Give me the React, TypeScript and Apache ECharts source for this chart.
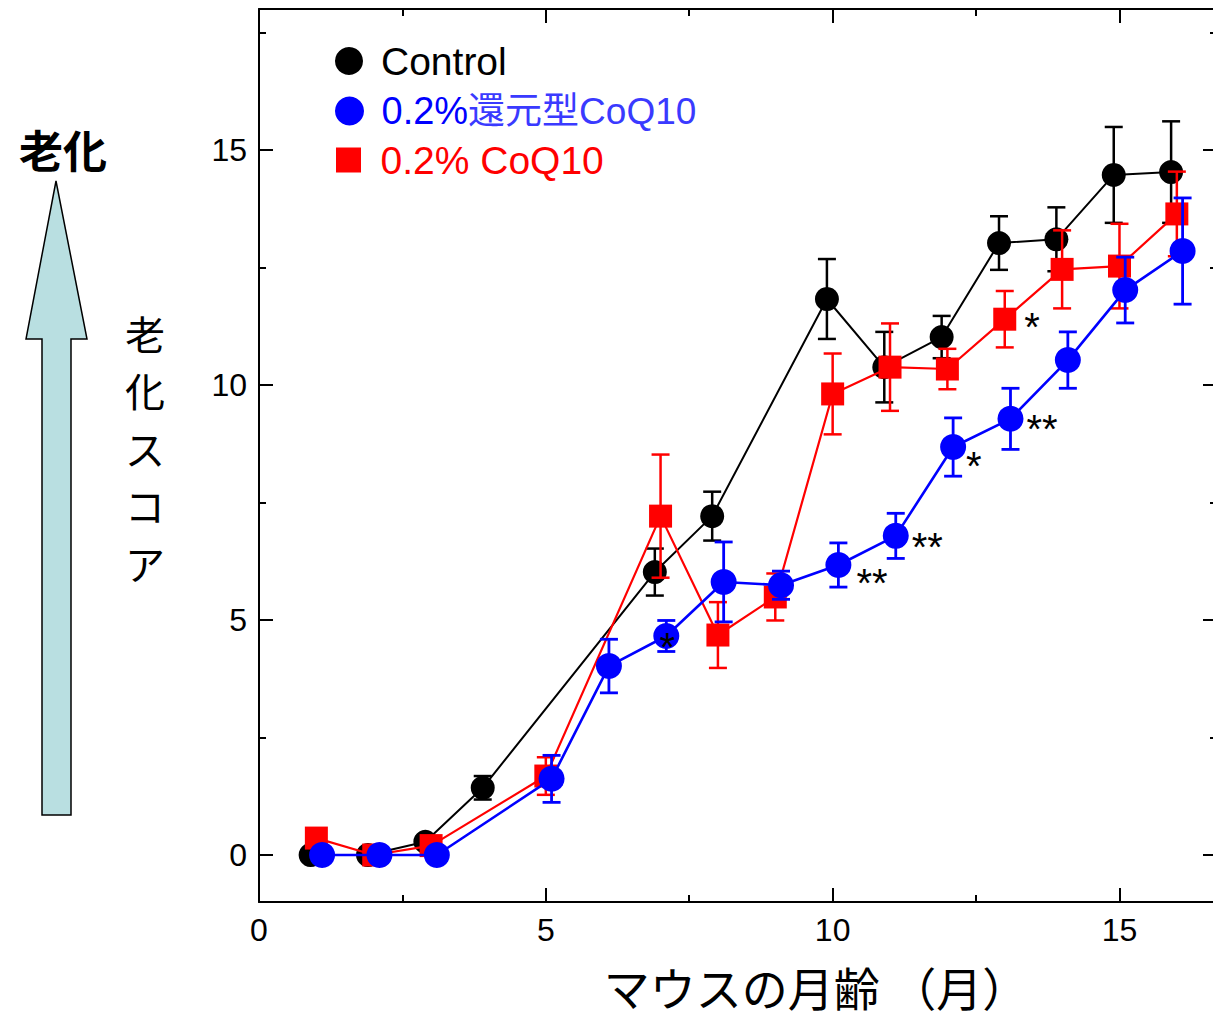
import React, { useEffect, useRef } from 'react';
import * as echarts from 'echarts';

// ---------- data ----------
const controlMonths = [1, 2, 3, 4, 7, 8, 10, 11, 12, 13, 14, 15, 16];
const controlMean = [0, 0, 0.28, 1.43, 6.02, 7.21, 11.83, 10.38, 11.02, 13.02, 13.1, 14.47, 14.53];
const controlErr = [0, 0, 0, 0.25, 0.5, 0.52, 0.85, 0.75, 0.45, 0.57, 0.68, 1.02, 1.08];
const controlSig = ['', '', '', '', '', '', '', '', '', '', '', '', ''];

const redMonths = [1, 2, 3, 5, 7, 8, 9, 10, 11, 12, 13, 14, 15, 16];
const redMean = [0.36, 0, 0.2, 1.68, 7.21, 4.68, 5.49, 9.81, 10.38, 10.34, 11.4, 12.46, 12.53, 13.64];
const redErr = [0, 0, 0, 0.4, 1.31, 0.7, 0.5, 0.86, 0.93, 0.43, 0.6, 0.83, 0.9, 0.9];
const redSig = ['', '', '', '', '', '', '', '', '', '', '*', '', '', ''];

const blueMonths = [1, 2, 3, 5, 6, 7, 8, 9, 10, 11, 12, 13, 14, 15, 16];
const blueMean = [0, 0, 0, 1.62, 4.02, 4.66, 5.81, 5.74, 6.17, 6.79, 8.68, 9.28, 10.53, 12.02, 12.85];
const blueErr = [0, 0, 0, 0.5, 0.57, 0.33, 0.85, 0.3, 0.47, 0.48, 0.62, 0.65, 0.6, 0.7, 1.13];
const blueSig = ['', '', '', '', '', '*', '', '', '**', '**', '*', '**', '', '', ''];

const xTicks = [0, 5, 10, 15];
const xMinorTicks = [2.5, 7.5, 12.5];
const yTicks = [0, 5, 10, 15];
const yMinorTicks = [2.5, 7.5, 12.5, 17.5];

const seriesNames = ['Control', '0.2%還元型CoQ10', '0.2% CoQ10'];
const xTitle = 'マウスの月齢 （月）';
const sideTitle = '老化';
const sideLabel = '老化スコア';

// ---------- styles ----------
const LATIN = "'Liberation Sans', Arial, 'Noto Sans CJK JP', sans-serif";
const CJK = "'Noto Sans CJK JP', 'Liberation Sans', sans-serif";

const sigStyle: Record<string, any> = {
  'blue-7': { position: 'inside', offset: [1, 11] },
  'blue-10': { position: 'right', offset: [0, 18] },
  'blue-11': { position: 'right', offset: [-2, 11] },
  'blue-12': { position: 'right', offset: [-5, 19] },
  'blue-13': { position: 'right', offset: [-2, 10] },
  'red-13': { position: 'right', offset: [3, 8] },
};

function buildLine(key: string, months: number[], mean: number[], sig: string[], dodge: number) {
  return months.map((m, i) => {
    const item: any = { value: [m + dodge, mean[i]] };
    if (sig[i]) {
      const st = sigStyle[`${key}-${m}`] || { position: 'right', offset: [0, 9] };
      item.label = {
        show: true,
        formatter: sig[i],
        position: st.position,
        offset: st.offset,
        distance: 5,
        color: '#000',
        fontSize: 40,
        fontFamily: LATIN,
      };
    }
    return item;
  });
}

function buildErr(months: number[], mean: number[], err: number[], dodge: number) {
  return months
    .map((m, i) => [m + dodge, mean[i] - err[i], mean[i] + err[i]])
    .filter((d) => d[2] - d[1] > 0);
}

function errSeries(data: number[][], color: string, lw: number, z: number) {
  return {
    type: 'custom',
    xAxisIndex: 0,
    yAxisIndex: 0,
    z,
    silent: true,
    encode: { x: 0, y: [1, 2] },
    data,
    renderItem: (params: any, api: any) => {
      const x = api.value(0);
      const lo = api.value(1);
      const hi = api.value(2);
      const p1 = api.coord([x, hi]);
      const p2 = api.coord([x, lo]);
      const hw = 9;
      const style = { stroke: color, lineWidth: lw };
      return {
        type: 'group',
        children: [
          { type: 'line', shape: { x1: p1[0], y1: p1[1], x2: p2[0], y2: p2[1] }, style },
          { type: 'line', shape: { x1: p1[0] - hw, y1: p1[1], x2: p1[0] + hw, y2: p1[1] }, style },
          { type: 'line', shape: { x1: p2[0] - hw, y1: p2[1], x2: p2[0] + hw, y2: p2[1] }, style },
        ],
      };
    },
  };
}

const X_MIN = 0;
const X_MAX = 16.7;
const Y_MIN = -1;
const Y_MAX = 18;

function majorX(position: string, labels: boolean) {
  return {
    type: 'value',
    gridIndex: 0,
    position,
    min: X_MIN,
    max: X_MAX,
    axisLine: { show: true, onZero: false, lineStyle: { color: '#000', width: 2 } },
    axisTick: { show: true, inside: true, length: 14, customValues: xTicks, lineStyle: { color: '#000', width: 2 } },
    axisLabel: labels
      ? { show: true, customValues: xTicks, margin: 12, color: '#000', fontSize: 32, fontFamily: LATIN }
      : { show: false },
    splitLine: { show: false },
  };
}
function minorX(position: string) {
  return {
    type: 'value',
    gridIndex: 1,
    position,
    min: X_MIN,
    max: X_MAX,
    axisLine: { show: false, onZero: false },
    axisTick: { show: true, inside: true, length: 7, customValues: xMinorTicks, lineStyle: { color: '#000', width: 2 } },
    axisLabel: { show: false },
    splitLine: { show: false },
  };
}
function majorY(position: string, labels: boolean) {
  return {
    type: 'value',
    gridIndex: 0,
    position,
    min: Y_MIN,
    max: Y_MAX,
    axisLine: { show: true, onZero: false, lineStyle: { color: '#000', width: 2 } },
    axisTick: { show: true, inside: true, length: 14, customValues: yTicks, lineStyle: { color: '#000', width: 2 } },
    axisLabel: labels
      ? { show: true, customValues: yTicks, margin: 12, color: '#000', fontSize: 32, fontFamily: LATIN }
      : { show: false },
    splitLine: { show: false },
  };
}
function minorY(position: string) {
  return {
    type: 'value',
    gridIndex: 1,
    position,
    min: Y_MIN,
    max: Y_MAX,
    axisLine: { show: false, onZero: false },
    axisTick: { show: true, inside: true, length: 7, customValues: yMinorTicks, lineStyle: { color: '#000', width: 2 } },
    axisLabel: { show: false },
    splitLine: { show: false },
  };
}

export default function App() {
  const ref = useRef<HTMLDivElement>(null);

  useEffect(() => {
    if (!ref.current) return;
    const chart = echarts.init(ref.current, undefined, { renderer: 'svg' });
    const gridRect = { left: 259, top: 9, right: 23, bottom: 117, containLabel: false };

    const option: any = {
      animation: false,
      backgroundColor: '#fff',
      grid: [gridRect, { ...gridRect }],
      xAxis: [majorX('bottom', true), majorX('top', false), minorX('bottom'), minorX('top')],
      yAxis: [majorY('left', true), majorY('right', false), minorY('left'), minorY('right')],
      legend: [
        {
          data: [{ name: seriesNames[0], icon: 'circle' }],
          left: 335,
          top: 41,
          padding: 0,
          itemWidth: 54,
          itemHeight: 28,
          selectedMode: false,
          textStyle: { color: '#000', fontSize: 39, lineHeight: 40, fontFamily: LATIN },
        },
        {
          data: [{ name: seriesNames[1], icon: 'circle' }],
          left: 335,
          top: 91,
          padding: 0,
          itemWidth: 54,
          itemHeight: 29,
          selectedMode: false,
          formatter: () => '{a|0.2%}{b|還元型CoQ10}',
          textStyle: {
            fontSize: 38,
            lineHeight: 40,
            fontFamily: LATIN,
            rich: {
              a: { color: '#0000ff', fontSize: 38, lineHeight: 40, fontFamily: LATIN },
              b: { color: '#3a3aff', fontSize: 37, lineHeight: 40, fontFamily: LATIN },
            },
          },
        },
        {
          data: [{ name: seriesNames[2], icon: 'path://M0,0L10,0L10,10L0,10Z' }],
          left: 336,
          top: 140,
          padding: 0,
          itemWidth: 54,
          itemHeight: 25,
          symbolKeepAspect: true,
          selectedMode: false,
          textStyle: { color: '#ff0000', fontSize: 39, lineHeight: 40, fontFamily: LATIN },
        },
      ],
      graphic: [
        {
          type: 'polygon',
          shape: {
            points: [
              [56, 181],
              [87, 339],
              [71, 339],
              [71, 815],
              [42, 815],
              [42, 339],
              [26, 339],
            ],
          },
          style: { fill: '#b9dfe1', stroke: '#000', lineWidth: 1.5 },
        },
        {
          type: 'text',
          x: 63,
          y: 149,
          style: {
            text: sideTitle,
            fill: '#000',
            font: `bold 44px ${CJK}`,
            textAlign: 'center',
            textVerticalAlign: 'middle',
          },
        },
        {
          type: 'text',
          x: 145,
          y: 304,
          style: {
            text: sideLabel.split('').join('\n'),
            fill: '#000',
            fontSize: 40,
            fontFamily: CJK,
            lineHeight: 57.5,
            textAlign: 'center',
            textVerticalAlign: 'top',
          },
        },
        {
          type: 'text',
          x: 816,
          y: 986,
          style: {
            text: xTitle,
            fill: '#000',
            fontSize: 46,
            fontFamily: CJK,
            textAlign: 'center',
            textVerticalAlign: 'middle',
          },
        },
      ],
      series: [
        errSeries(buildErr(controlMonths, controlMean, controlErr, -0.1), '#000', 2.5, 2),
        {
          name: seriesNames[0],
          type: 'line',
          z: 2,
          xAxisIndex: 0,
          yAxisIndex: 0,
          data: buildLine('control', controlMonths, controlMean, controlSig, -0.1),
          symbol: 'circle',
          symbolSize: 24,
          showAllSymbol: true,
          lineStyle: { color: '#000', width: 2 },
          itemStyle: { color: '#000' },
          emphasis: { disabled: true },
        },
        errSeries(buildErr(redMonths, redMean, redErr, 0), '#ff0000', 2.5, 3),
        {
          name: seriesNames[2],
          type: 'line',
          z: 3,
          xAxisIndex: 0,
          yAxisIndex: 0,
          data: buildLine('red', redMonths, redMean, redSig, 0),
          symbol: 'rect',
          symbolSize: 23,
          showAllSymbol: true,
          lineStyle: { color: '#ff0000', width: 2.2 },
          itemStyle: { color: '#ff0000' },
          emphasis: { disabled: true },
        },
        errSeries(buildErr(blueMonths, blueMean, blueErr, 0.1), '#0000ff', 2.8, 4),
        {
          name: seriesNames[1],
          type: 'line',
          z: 4,
          xAxisIndex: 0,
          yAxisIndex: 0,
          data: buildLine('blue', blueMonths, blueMean, blueSig, 0.1),
          symbol: 'circle',
          symbolSize: 26,
          showAllSymbol: true,
          lineStyle: { color: '#0000ff', width: 2.6 },
          itemStyle: { color: '#0000ff' },
          emphasis: { disabled: true },
        },
      ],
    };
    chart.setOption(option);
    return () => chart.dispose();
  }, []);

  return (
    <div
      style={{
        position: 'fixed',
        left: 0,
        top: 0,
        width: 1213,
        height: 1019,
        overflow: 'hidden',
        background: '#fff',
      }}
    >
      <div ref={ref} style={{ width: 1240, height: 1019 }} />
    </div>
  );
}
